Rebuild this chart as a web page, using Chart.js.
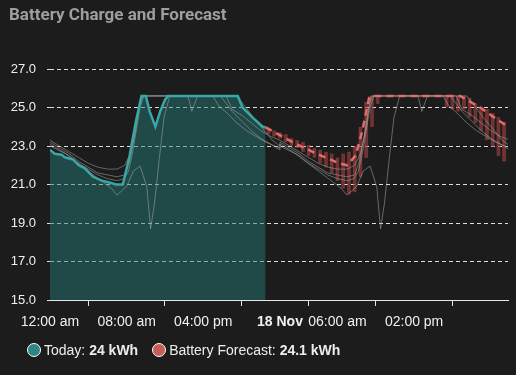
<!DOCTYPE html>
<html>
<head>
<meta charset="utf-8">
<title>Battery Charge and Forecast</title>
<script src="https://cdn.jsdelivr.net/npm/chart.js@4.4.0/dist/chart.umd.min.js"></script>
<style>
  html, body { margin: 0; padding: 0; background: #1c1c1c; }
  .card { position: relative; width: 516px; height: 375px; overflow: hidden; background: #1c1c1c; }
  .card__chart { position: absolute; left: 0; top: 0; }
  .card__title { position: absolute; left: 9px; top: 4px; margin: 0; font: 700 17px Roboto, sans-serif; color: #9e9e9e; }
  .card__legend { position: absolute; left: 27px; top: 342px; display: flex; font: 14px "Liberation Sans", Arial, sans-serif; color: #ededed; }
  .legend__item { display: flex; align-items: center; margin-right: 14px; }
  .legend__marker { width: 12px; height: 12px; border-radius: 50%; border: 1.2px solid #ffffff; margin-right: 3px; }
</style>
</head>
<body>
<div class="card">
  <canvas class="card__chart" id="chart" width="516" height="375"></canvas>
  <h2 class="card__title">Battery Charge and Forecast</h2>
  <div class="card__legend" id="legend"></div>
</div>
<script>
// x axis is hours from midnight of today (0..47.8)
const tickHours = [0, 8, 16, 24, 30, 38];
const tickLabels = ['12:00 am', '08:00 am', '04:00 pm', '18 Nov', '06:00 am', '02:00 pm'];

const legendLabels = ['Today', 'Battery Forecast'];
const legendTotals = ['24 kWh', '24.1 kWh'];
const legendColors = ['#2e8585', '#c55d59'];

const todayHours = [0, 0.5, 1.2, 1.6, 2.4, 3, 3.6, 4.5, 5.4, 6.2, 6.9, 7.6, 8.3, 8.6, 9, 9.55, 10, 10.4, 11, 11.5, 12, 12.3, 19.6, 20.1, 21.1, 22.2, 22.5];
const todayValues = [22.8, 22.6, 22.55, 22.4, 22.3, 22, 21.85, 21.4, 21.2, 21.1, 21, 21, 22.45, 23.3, 24.35, 25.6, 25.6, 24.8, 24, 24.8, 25.4, 25.6, 25.6, 25, 24.5, 24, 23.97];

const forecastHours = [22.5, 25.3, 27.8, 30.2, 31, 31.9, 32.6, 33.3, 33.9, 42.8, 43.5, 44.9, 46.3, 47.5, 47.8];
const forecastValues = [23.97, 23.2, 22.6, 22.1, 22, 22.5, 23.8, 25.5, 25.6, 25.6, 25.4, 25, 24.5, 24.1, 24];

const rangeHours = [22.8, 23.4, 24, 24.6, 25.2, 25.8, 26.4, 27, 27.6, 28.2, 28.8, 29.4, 30, 30.6, 31.2, 31.8, 32.4, 33, 33.6, 34.2,
  41.4, 42, 42.6, 43.2, 43.8, 44.4, 45, 45.6, 46.2, 46.8, 47.4];
const rangeLow = [23.6, 23.5, 23.4, 23.2, 23, 22.9, 22.7, 22.5, 22.4, 22.1, 21.9, 21.6, 21.2, 20.8, 20.5, 20.6, 21.4, 22.4, 24, 25.2,
  25, 24.9, 24.8, 24.9, 24.5, 24.2, 23.8, 23.3, 22.95, 22.5, 22.2];
const rangeHigh = [23.95, 23.8, 23.7, 23.6, 23.4, 23.3, 23.2, 23.05, 22.9, 22.8, 22.7, 22.6, 22.4, 22.6, 22.7, 23, 24, 25.3, 25.6, 25.6,
  25.6, 25.6, 25.6, 25.6, 25.5, 25.2, 25, 24.9, 24.7, 24.5, 24.25];

// past days, [hour, kWh]; drawn again for tomorrow
const historyA = [[0, 23], [0.8, 22.8], [1.6, 22.6], [2.4, 22.3], [3.2, 22], [4, 21.7], [4.8, 21.4], [5.6, 21.1], [6.4, 20.8], [7, 20.45], [8, 20.9], [8.7, 21.7], [9.4, 21.96], [10.1, 20.9], [10.5, 18.7], [10.9, 20], [11.4, 22.3], [11.9, 24.5], [12.5, 25.6], [19.5, 25.6], [20.3, 25.1], [21.2, 24.5], [22.2, 23.9], [23.2, 23.3], [24, 23]];
const historyB = [[0, 23.3], [1, 23], [2, 22.7], [3, 22.4], [4, 22.1], [5, 21.9], [6, 21.8], [7, 21.8], [7.8, 22], [8.4, 22.6], [9, 24], [9.4, 25.3], [9.7, 25.6], [14.4, 25.6], [14.8, 24.8], [15.4, 25.6], [18.4, 25.6], [19, 24.9], [20, 24.6], [21, 24.2], [22, 23.8], [23, 23.5], [24, 23.3]];
const historyC = [[0, 23.2], [1, 22.9], [2, 22.6], [3, 22.2], [4, 21.9], [5, 21.6], [6, 21.5], [7, 21.4], [7.8, 21.5], [8.3, 22.2], [8.8, 23.5], [9.2, 24.8], [9.5, 25.6], [17.8, 25.6], [18.4, 25.2], [19, 24.8], [20, 24.3], [21, 23.8], [22, 23.4], [23, 23.1], [24, 22.8]];
const historyD = [[0, 23.1], [1, 22.8], [2, 22.5], [3, 22.1], [4, 21.8], [5, 21.5], [6, 21.3], [7, 21.2], [7.7, 21.3], [8.2, 21.7], [8.6, 22.6], [9, 23.8], [9.4, 25], [9.8, 25.6], [17, 25.6], [17.6, 25.1], [18.5, 24.7], [19.5, 24.2], [20.5, 23.8], [21.5, 23.5], [22.5, 23.2], [24, 22.9]];

const FONT = '"Liberation Sans", Arial, sans-serif';

const toPoints = (hours, values) => hours.map((x, i) => ({x, y: values[i]}));
const twoDays = (history) => history.map(([x, y]) => ({x, y}))
  .concat(history.map(([x, y]) => ({x: x + 24, y})));

const historyDatasets = [historyA, historyB, historyC, historyD].map((history) => ({
  type: 'line',
  data: twoDays(history),
  borderColor: 'rgba(165, 165, 165, 0.55)',
  borderWidth: 1,
  pointRadius: 0,
  order: 4
}));

new Chart(document.getElementById('chart'), {
  type: 'line',
  data: {
    datasets: [
      {
        data: toPoints(todayHours, todayValues),
        borderWidth: 0,
        backgroundColor: 'rgba(35, 129, 122, 0.46)',
        fill: 'start',
        pointRadius: 0,
        order: 6
      },
      {
        type: 'bar',
        data: rangeHours.map((x, i) => ({x, y: [rangeLow[i], rangeHigh[i]]})),
        backgroundColor: 'rgba(160, 60, 60, 0.62)',
        borderColor: 'rgba(200, 85, 85, 0.35)',
        borderWidth: 0.8,
        borderSkipped: false,
        barThickness: 3.6,
        order: 5
      },
      ...historyDatasets,
      {
        data: toPoints(todayHours, todayValues),
        borderColor: '#3aa6a6',
        borderWidth: 2.5,
        fill: false,
        pointRadius: 0,
        order: 1
      },
      {
        data: toPoints(forecastHours, forecastValues),
        borderColor: '#e26a6a',
        borderWidth: 2.5,
        borderDash: [7, 5],
        fill: false,
        pointRadius: 0,
        order: 0
      }
    ]
  },
  options: {
    responsive: false,
    animation: false,
    layout: {padding: {left: 0, right: 8, top: 69, bottom: 45}},
    plugins: {
      legend: {display: false},
      tooltip: {enabled: false}
    },
    scales: {
      x: {
        type: 'linear',
        min: 0,
        max: 47.8,
        offset: false,
        afterBuildTicks: (scale) => {
          scale.ticks = tickHours.map((value) => ({value}));
        },
        afterFit: (scale) => {
          scale.height = 30;
        },
        ticks: {
          autoSkip: false,
          maxRotation: 0,
          padding: 8,
          color: '#f0f0f0',
          font: (ctx) => ({
            family: FONT,
            size: 14,
            weight: ctx.tick && ctx.tick.label === '18 Nov' ? 'bold' : 'normal'
          }),
          callback: (value) => tickLabels[tickHours.indexOf(value)]
        },
        grid: {
          drawOnChartArea: false,
          tickLength: 6,
          color: '#e6e6e6'
        },
        border: {color: '#e6e6e6', width: 1}
      },
      y: {
        min: 15,
        max: 27,
        afterFit: (scale) => {
          scale.width = 50;
        },
        ticks: {
          stepSize: 2,
          padding: 11,
          color: '#f0f0f0',
          font: {family: FONT, size: 13},
          callback: (value) => value.toFixed(1)
        },
        grid: {
          color: 'rgba(255, 255, 255, 0.85)',
          tickLength: 3,
          borderDash: [4, 3],
          tickBorderDash: [4, 3]
        },
        border: {display: false, dash: [4, 3]}
      }
    }
  }
});

const legend = document.getElementById('legend');
legendLabels.forEach((label, i) => {
  const item = document.createElement('div');
  item.className = 'legend__item';
  item.innerHTML = `<span class="legend__marker" style="background:${legendColors[i]}"></span>` +
    `<span>${label}: <b>${legendTotals[i]}</b></span>`;
  legend.appendChild(item);
});
</script>
</body>
</html>
